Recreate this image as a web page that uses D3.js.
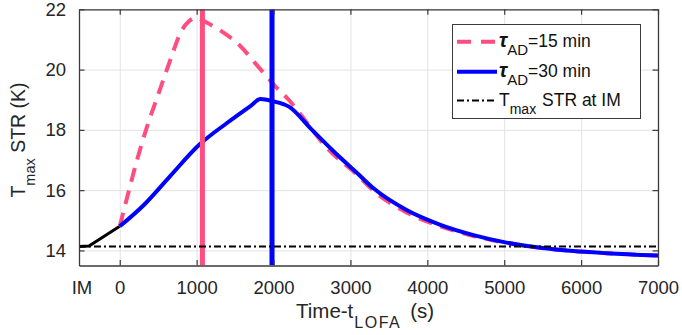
<!DOCTYPE html>
<html>
<head>
<meta charset="utf-8">
<script src="https://cdn.jsdelivr.net/npm/d3@7"></script>
<style>
  body { margin: 0; background: #fff; }
  svg { display: block; font-family: 'Liberation Sans', Arial, sans-serif; }
</style>
</head>
<body>
<div id="svg-container"></div>
<script>
// data
const xTickValues = [0, 1000, 2000, 3000, 4000, 5000, 6000, 7000]
const yTickValues = [14, 16, 18, 20, 22]
const imLabel = 'IM'
const imTime = -530
const imTemp = 14.13

// initial ramp before LOFA (black)
const preTime = [-530, -400, 0]
const preTemp = [14.13, 14.15, 14.8]

// tau_AD = 15 min
const time15 = [0, 95, 225, 354, 504, 655, 806, 900, 1000, 1100, 1300, 1560, 1820, 2030, 2200, 2440, 2680, 3090, 3300, 3730, 4170, 4600, 5030, 5470, 5900, 6330, 7000]
const temp15 = [14.8, 15.75, 17.0, 18.1, 19.2, 20.3, 21.3, 21.6, 21.73, 21.6, 21.31, 20.8, 20.04, 19.43, 18.99, 18.22, 17.44, 16.5, 15.98, 15.26, 14.8, 14.48, 14.25, 14.09, 13.98, 13.91, 13.83]

// tau_AD = 30 min
const time30 = [0, 310, 650, 1040, 1390, 1700, 1830, 1990, 2200, 2500, 2800, 3090, 3300, 3730, 4170, 4600, 5030, 5470, 5900, 6330, 7000]
const temp30 = [14.8, 15.5, 16.45, 17.52, 18.22, 18.79, 19.02, 18.95, 18.77, 18.0, 17.24, 16.56, 16.06, 15.34, 14.85, 14.51, 14.26, 14.09, 13.98, 13.91, 13.83]

// peak-time markers
const peakSeries = ['15', '30']
const peakTimes = [1075, 1980]

const colors = { '15': '#ff4d80', '30': '#0000ff' }

const width = 682
const height = 335
const plotLeft = 79
const plotRight = 658
const plotTop = 9.3
const plotBottom = 265.5

const svg = d3.select('#svg-container')
  .append('svg')
  .attr('width', width)
  .attr('height', height)
  .attr('viewBox', `0 0 ${width} ${height}`)

const xScale = d3.scaleLinear().domain([imTime, 7000]).range([plotLeft, plotRight])
const yScale = d3.scaleLinear().domain([13.5, 22]).range([plotBottom, plotTop])

const plotH = plotBottom - plotTop
const plotW = plotRight - plotLeft

// grid
const grid = svg.append('g').attr('class', 'grid')
grid.append('g')
  .attr('transform', `translate(0, ${plotBottom})`)
  .call(d3.axisBottom(xScale).tickValues(xTickValues).tickSize(-plotH).tickFormat(''))
  .call(g => {
    g.select('.domain').remove()
    g.selectAll('.tick line').attr('stroke', '#e3e3e3')
  })
grid.append('g')
  .attr('transform', `translate(${plotLeft}, 0)`)
  .call(d3.axisLeft(yScale).tickValues(yTickValues).tickSize(-plotW).tickFormat(''))
  .call(g => {
    g.select('.domain').remove()
    g.selectAll('.tick line').attr('stroke', '#e3e3e3')
  })

const toPoints = (xs, ys) => xs.map((x, i) => ({ x, y: ys[i] }))
const line = d3.line()
  .curve(d3.curveMonotoneX)
  .x(d => xScale(d.x))
  .y(d => yScale(d.y))

svg.append('clipPath').attr('id', 'plot-clip')
  .append('rect')
  .attr('x', plotLeft).attr('y', plotTop)
  .attr('width', plotW).attr('height', plotH)

const core = svg.append('g').attr('clip-path', 'url(#plot-clip)')

// black ramp
core.append('path')
  .attr('d', d3.line().x(d => xScale(d.x)).y(d => yScale(d.y))(toPoints(preTime, preTemp)))
  .attr('fill', 'none')
  .attr('stroke', '#000')
  .attr('stroke-width', 3)

// 15 min dashed
core.append('path')
  .attr('d', line(toPoints(time15, temp15)))
  .attr('fill', 'none')
  .attr('stroke', colors['15'])
  .attr('stroke-width', 4)
  .attr('stroke-dasharray', '14 9')

// 30 min solid
core.append('path')
  .attr('d', line(toPoints(time30, temp30)))
  .attr('fill', 'none')
  .attr('stroke', colors['30'])
  .attr('stroke-width', 4)

// vertical peak lines
core.selectAll('line.peak')
  .data(peakSeries)
  .join('line')
  .attr('class', 'peak')
  .attr('x1', (s, i) => xScale(peakTimes[i]))
  .attr('x2', (s, i) => xScale(peakTimes[i]))
  .attr('y1', plotTop)
  .attr('y2', plotBottom)
  .attr('stroke', s => colors[s])
  .attr('stroke-width', 5)

// IM reference line
core.append('line')
  .attr('x1', plotLeft)
  .attr('x2', plotRight)
  .attr('y1', yScale(imTemp))
  .attr('y2', yScale(imTemp))
  .attr('stroke', '#000')
  .attr('stroke-width', 2)
  .attr('stroke-dasharray', '7 3 2 3')

// axes box + inward ticks
const axisColor = '#3a3a3a'
const tickLen = 5.5
const styleAxis = g => {
  g.select('.domain').attr('stroke', axisColor).attr('stroke-width', 1.3)
  g.selectAll('.tick line').attr('stroke', axisColor).attr('stroke-width', 1.2)
  g.selectAll('.tick text')
    .attr('fill', '#262626')
    .style('font-size', '18.5px')
    .style('font-family', "'Liberation Sans', Arial, sans-serif")
}

svg.append('g')
  .attr('transform', `translate(0, ${plotBottom})`)
  .call(d3.axisBottom(xScale).tickValues(xTickValues).tickFormat(d3.format('d'))
    .tickSizeInner(-tickLen).tickSizeOuter(0).tickPadding(15))
  .call(styleAxis)

svg.append('g')
  .attr('transform', `translate(0, ${plotTop})`)
  .call(d3.axisTop(xScale).tickValues(xTickValues).tickSizeInner(-tickLen).tickSizeOuter(0).tickFormat(''))
  .call(styleAxis)

svg.append('g')
  .attr('transform', `translate(${plotLeft}, 0)`)
  .call(d3.axisLeft(yScale).tickValues(yTickValues).tickFormat(d3.format('d'))
    .tickSizeInner(-tickLen).tickSizeOuter(0).tickPadding(13))
  .call(styleAxis)

svg.append('g')
  .attr('transform', `translate(${plotRight}, 0)`)
  .call(d3.axisRight(yScale).tickValues(yTickValues).tickSizeInner(-tickLen).tickSizeOuter(0).tickFormat(''))
  .call(styleAxis)

// IM label on x axis
svg.append('text')
  .attr('x', xScale(imTime) + 3)
  .attr('y', plotBottom + 15)
  .attr('dy', '0.71em')
  .attr('text-anchor', 'middle')
  .attr('fill', '#262626')
  .style('font-size', '18.5px')
  .text(imLabel)

// x-axis label
const xLabel = svg.append('text')
  .attr('x', 296)
  .attr('y', 318)
  .attr('fill', '#262626')
  .style('font-size', '20.5px')
xLabel.append('tspan').text('Time-t')
xLabel.append('tspan').attr('dy', 10).attr('dx', 1).style('font-size', '16px').style('letter-spacing', '1.5px').text('LOFA')
xLabel.append('tspan').attr('dy', -10).attr('dx', 9).text('(s)')

// y-axis label
const yLabel = svg.append('text')
  .attr('transform', `translate(25, 140) rotate(-90)`)
  .attr('text-anchor', 'middle')
  .attr('fill', '#262626')
  .style('font-size', '19.5px')
yLabel.append('tspan').text('T')
yLabel.append('tspan').attr('dy', 10).style('font-size', '14.5px').text('max')
yLabel.append('tspan').attr('dy', -10).text(' STR (K)')

// legend
const legend = svg.append('g').attr('class', 'legend')
legend.append('rect')
  .attr('x', 452.5).attr('y', 24.5)
  .attr('width', 188).attr('height', 94)
  .attr('fill', '#fff')
  .attr('stroke', '#3a3a3a')
  .attr('stroke-width', 1)

const legendRows = [
  { key: '15', y: 41.7, dash: '14 10', color: colors['15'], width: 4 },
  { key: '30', y: 71.7, dash: null, color: colors['30'], width: 4 },
  { key: 'im', y: 100.5, dash: '7 3 2 3', color: '#000', width: 2 },
]

legendRows.forEach(r => {
  legend.append('line')
    .attr('x1', 457).attr('x2', 497)
    .attr('y1', r.y).attr('y2', r.y)
    .attr('stroke', r.color)
    .attr('stroke-width', r.width)
    .attr('stroke-dasharray', r.dash)
  const t = legend.append('text')
    .attr('x', 499)
    .attr('y', r.y + 5)
    .attr('fill', '#111')
    .style('font-size', '17.5px')
  if (r.key === 'im') {
    t.append('tspan').text('T')
    t.append('tspan').attr('dy', 8).style('font-size', '14px').text('max')
    t.append('tspan').attr('dy', -8).attr('dx', 1).text(' STR at IM')
  } else {
    t.append('tspan').style('font-style', 'italic').style('font-weight', 'bold').style('font-size', '20px').text('τ')
    t.append('tspan').attr('dy', 8).style('font-size', '15px').text('AD')
    t.append('tspan').attr('dy', -8).text(`=${r.key} min`)
  }
})
</script>
</body>
</html>
